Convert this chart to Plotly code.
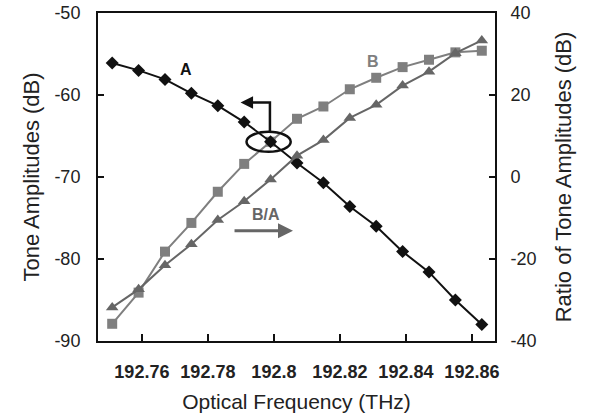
import plotly.graph_objects as go

freq = [192.751, 192.759, 192.767, 192.775, 192.783, 192.791, 192.799, 192.807,
        192.815, 192.823, 192.831, 192.839, 192.847, 192.855, 192.863]
tone_a = [-56.1, -57.0, -58.1, -59.8, -61.3, -63.3, -65.7, -68.3,
          -70.7, -73.6, -76.0, -79.1, -81.6, -85.0, -88.0]
tone_b = [-87.9, -84.1, -79.1, -75.6, -71.8, -68.4, -65.7, -62.9,
          -61.4, -59.3, -57.9, -56.6, -55.7, -54.8, -54.6]
ratio_ba = [-31.8, -27.4, -21.5, -16.4, -10.5, -5.9, -0.6, 5.2,
            9.0, 14.4, 17.6, 22.3, 25.7, 30.2, 33.3]
x_ticks = [192.76, 192.78, 192.8, 192.82, 192.84, 192.86]
x_ticklabels = ["192.76", "192.78", "192.8", "192.82", "192.84", "192.86"]
y_ticks = [-90, -80, -70, -60, -50]
y_ticklabels = ["-90", "-80", "-70", "-60", "-50"]
y2_ticks = [-40, -20, 0, 20, 40]
y2_ticklabels = ["-40", "-20", "0", "20", "40"]

FONT = "Arial, Liberation Sans, sans-serif"
GRAY_B = "#7f7f7f"
GRAY_R = "#666666"
TXT = "#222222"

fig = go.Figure()
fig.add_trace(go.Scatter(x=freq, y=tone_b, mode="lines+markers", name="B",
                         line=dict(color=GRAY_B, width=2),
                         marker=dict(symbol="square", size=10, color=GRAY_B)))
fig.add_trace(go.Scatter(x=freq, y=ratio_ba, mode="lines+markers", name="B/A", yaxis="y2",
                         line=dict(color=GRAY_R, width=2),
                         marker=dict(symbol="triangle-up", size=11, color=GRAY_R)))
fig.add_trace(go.Scatter(x=freq, y=tone_a, mode="lines+markers", name="A",
                         line=dict(color="#111111", width=2),
                         marker=dict(symbol="diamond", size=10, color="#111111")))

fig.update_layout(
    width=590, height=413,
    margin=dict(l=98, r=95, t=13, b=72),
    paper_bgcolor="white", plot_bgcolor="white",
    showlegend=False,
    font=dict(family=FONT, size=18, color=TXT),
    xaxis=dict(range=[192.7467, 192.867], tickvals=x_ticks, ticktext=x_ticklabels,
               ticks="inside", ticklen=7, tickwidth=1.5, tickcolor="#111",
               showline=True, linecolor="#111", linewidth=2, mirror=True,
               showgrid=False, zeroline=False, automargin=False,
               tickfont=dict(family=FONT, size=18, color=TXT, weight="bold"),
               ticklabelstandoff=13,
               title=dict(text="Optical Frequency (THz)", font=dict(family=FONT, size=21, color=TXT),
                          standoff=14)),
    yaxis=dict(range=[-90, -50], tickvals=y_ticks, ticktext=y_ticklabels,
               ticks="inside", ticklen=6, tickwidth=1.5, tickcolor="#111",
               showline=True, linecolor="#111", linewidth=2, mirror=True,
               showgrid=False, zeroline=False, automargin=False,
               tickfont=dict(family=FONT, size=18, color=TXT),
               ticklabelstandoff=12,
               title=dict(text="Tone Amplitudes (dB)", font=dict(family=FONT, size=22, color=TXT),
                          standoff=9)),
    yaxis2=dict(range=[-40, 40], tickvals=y2_ticks, ticktext=y2_ticklabels,
                overlaying="y", side="right",
                ticks="inside", ticklen=6, tickwidth=1.5, tickcolor="#111",
                showline=True, linecolor="#111", linewidth=2,
                showgrid=False, zeroline=False, automargin=False,
                tickfont=dict(family=FONT, size=18, color=TXT),
                ticklabelstandoff=10,
                title=dict(text="Ratio of Tone Amplitudes (dB)", font=dict(family=FONT, size=22, color=TXT),
                           standoff=20)),
)

# ellipse around crossing
fig.add_shape(type="circle", xref="x", yref="y",
              x0=192.7917, x1=192.8051, y0=-66.93, y1=-64.49,
              line=dict(color="#111", width=2.5))
# bent arrow pointing to left axis
fig.add_shape(type="path", xref="x", yref="y",
              path="M 192.7988 -64.61 L 192.7988 -60.91 L 192.7915 -60.91",
              line=dict(color="#111", width=2.5))
fig.add_annotation(x=192.7899, y=-60.91, ax=192.7930, ay=-60.91, axref="x", ayref="y",
                   xref="x", yref="y", text="", showarrow=True,
                   arrowhead=2, arrowsize=1, arrowwidth=2.5, arrowcolor="#111")
# B/A arrow pointing right
fig.add_annotation(x=192.8058, y=-76.57, ax=-60, ay=0, xref="x", yref="y", text="",
                   showarrow=True, arrowhead=2, arrowsize=1, arrowwidth=3, arrowcolor=GRAY_R)

fig.add_annotation(x=192.7734, y=-56.92, text="<b>A</b>", showarrow=False,
                   font=dict(family=FONT, size=16, color="#111"))
fig.add_annotation(x=192.8299, y=-55.94, text="<b>B</b>", showarrow=False,
                   font=dict(family=FONT, size=16, color=GRAY_B))
fig.add_annotation(x=192.7975, y=-74.62, text="<b>B/A</b>", showarrow=False,
                   font=dict(family=FONT, size=16, color=GRAY_R))

fig.write_html("out.html")
